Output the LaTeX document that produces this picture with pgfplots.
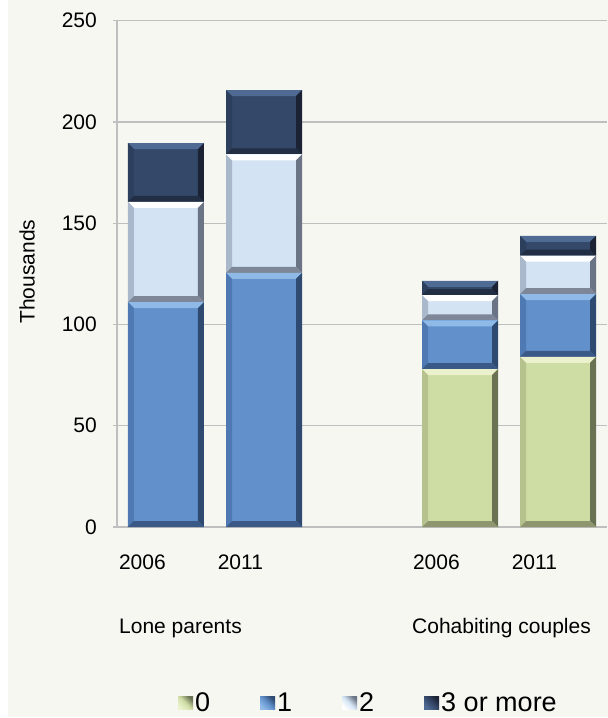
\documentclass[border=0pt]{standalone}
\usepackage{fontspec}
\setmainfont{Liberation Sans}
\usepackage{pgfplots}
\pgfplotsset{compat=1.18}

\definecolor{bgcol}{HTML}{F7F7F2}
\definecolor{gridgray}{HTML}{BFBFBF}
% 0 children (green)
\definecolor{gM}{HTML}{CEDDA4}\definecolor{gT}{HTML}{EAF1CC}\definecolor{gL}{HTML}{B5C28E}\definecolor{gR}{HTML}{6A7254}\definecolor{gB}{HTML}{8E956F}
% 1 child (blue)
\definecolor{bM}{HTML}{6190CB}\definecolor{bT}{HTML}{8FBAE8}\definecolor{bL}{HTML}{4E79B3}\definecolor{bR}{HTML}{2E4A70}\definecolor{bB}{HTML}{3A5986}
% 2 children (light blue)
\definecolor{lM}{HTML}{D3E3F3}\definecolor{lT}{HTML}{FFFFFF}\definecolor{lL}{HTML}{A9B8CB}\definecolor{lR}{HTML}{6A7484}\definecolor{lB}{HTML}{7D8797}
% 3 or more (navy)
\definecolor{nM}{HTML}{34496A}\definecolor{nT}{HTML}{506B93}\definecolor{nL}{HTML}{2C3F5C}\definecolor{nR}{HTML}{1A2233}\definecolor{nB}{HTML}{222E44}

\newcommand\bvquad[5]{\pgfsetfillcolor{#1}\pgfpathmoveto{#2}\pgfpathlineto{#3}\pgfpathlineto{#4}\pgfpathlineto{#5}\pgfpathclose\pgfusepath{fill}}
\newcommand\bvpt[4]{\pgfpointadd{\pgfpoint{#1}{#2}}{\pgfpoint{#3}{#4}}}
\tikzset{bevel/.style n args={5}{fill=#1, path picture={%
  \pgfpointanchor{path picture bounding box}{south west}\pgfgetlastxy{\xa}{\ya}%
  \pgfpointanchor{path picture bounding box}{north east}\pgfgetlastxy{\xb}{\yb}%
  \bvquad{#2}{\pgfpoint{\xa}{\yb}}{\pgfpoint{\xb}{\yb}}{\bvpt{\xb}{\yb}{-6pt}{-6pt}}{\bvpt{\xa}{\yb}{6pt}{-6pt}}%
  \bvquad{#3}{\pgfpoint{\xa}{\yb}}{\bvpt{\xa}{\yb}{6pt}{-6pt}}{\bvpt{\xa}{\ya}{6pt}{6pt}}{\pgfpoint{\xa}{\ya}}%
  \bvquad{#4}{\pgfpoint{\xb}{\yb}}{\bvpt{\xb}{\yb}{-6pt}{-6pt}}{\bvpt{\xb}{\ya}{-6pt}{6pt}}{\pgfpoint{\xb}{\ya}}%
  \bvquad{#5}{\pgfpoint{\xa}{\ya}}{\bvpt{\xa}{\ya}{6pt}{6pt}}{\bvpt{\xb}{\ya}{-6pt}{6pt}}{\pgfpoint{\xb}{\ya}}%
}},
 s0/.style={draw=none, bevel={gM}{gT}{gL}{gR}{gB}},
 s1/.style={draw=none, bevel={bM}{bT}{bL}{bR}{bB}},
 s2/.style={draw=none, bevel={lM}{lT}{lL}{lR}{lB}},
 s3/.style={draw=none, bevel={nM}{nT}{nL}{nR}{nB}},
}

\pgfplotsset{mybase/.style={
  at={(0,0)}, anchor=south west,
  scale only axis, width=490pt, height=506.3pt,
  xmin=-0.5, xmax=4.5, ymin=0, ymax=250,
  ybar stacked, bar width=76pt,
}}

\begin{document}
\begin{tikzpicture}
\fill[white] (-117pt,527pt) rectangle (491pt,-191pt);
\fill[bgcol] (-109pt,527pt) rectangle (491pt,-190pt);
% Lone parents 2006 (with all axis decorations)
\begin{axis}[mybase,
  xtick={0,1,3,4}, xticklabels={2006,2011,2006,2011},
  ytick={0,50,...,250},
  axis x line=bottom, axis y line=left,
  axis line style={-, color=gridgray, line width=1.2pt},
  ymajorgrids, grid style={gridgray, line width=1.2pt},
  major tick length=4pt, tick align=outside,
  xtick style={draw=none}, ytick style={gridgray, line width=1.2pt},
  tick label style={font=\fontsize{21}{25}\selectfont, text=black},
  /pgf/number format/assume math mode=true,
  xticklabel style={inner sep=0pt, anchor=north, xshift=-23.6pt, yshift=-24pt},
  yticklabel style={inner sep=0pt, anchor=east, xshift=-16pt},
]
\addplot[s1] coordinates {(0,111)};
\addplot[s2] coordinates {(0,49.5)};
\addplot[s3] coordinates {(0,29)};
\end{axis}
% Lone parents 2011
\begin{axis}[mybase, hide axis]
\addplot[s1] coordinates {(1,125.5)};
\addplot[s2] coordinates {(1,58.5)};
\addplot[s3] coordinates {(1,31.7)};
\end{axis}
% Cohabiting couples 2006 (carries the legend)
\begin{axis}[mybase, hide axis,
  legend columns=4,
  legend cell align=left,
  legend style={at={(61pt,-176pt)}, anchor=west, draw=none, fill=none,
    inner sep=0pt, font=\fontsize{27}{31}\selectfont,
    nodes={inner sep=2pt},
    /tikz/every even column/.append style={column sep=48pt}},
  legend image code/.code={\path[#1] (0pt,-6.5pt) rectangle (15pt,6.5pt);},
]
\addplot[s0, forget plot] coordinates {(3,78)};
\addplot[s1, forget plot] coordinates {(3,24)};
\addplot[s2, forget plot] coordinates {(3,12.5)};
\addplot[s3, forget plot] coordinates {(3,7)};
\addlegendimage{draw=none, left color=gT, right color=gR, middle color=gM, shading angle=135}
\addlegendimage{draw=none, left color=bT, right color=bR, middle color=bM, shading angle=135}
\addlegendimage{draw=none, left color=lT, right color=lR, middle color=lM, shading angle=135}
\addlegendimage{draw=none, left color=nT, right color=nR, middle color=nM, shading angle=135}
\legend{0,1,2,3 or more}
\end{axis}
% Cohabiting couples 2011
\begin{axis}[mybase, hide axis]
\addplot[s0] coordinates {(4,84)};
\addplot[s1] coordinates {(4,31)};
\addplot[s2] coordinates {(4,19)};
\addplot[s3] coordinates {(4,9.7)};
\end{axis}
\node[rotate=90, font=\fontsize{21}{25}\selectfont] at (-90pt,255.3pt) {Thousands};
\node[anchor=base west, inner sep=0pt, font=\fontsize{21}{25}\selectfont] at (2pt,-106pt) {Lone parents};
\node[anchor=base west, inner sep=0pt, font=\fontsize{21}{25}\selectfont] at (295pt,-106pt) {Cohabiting couples};
\end{tikzpicture}
\end{document}
